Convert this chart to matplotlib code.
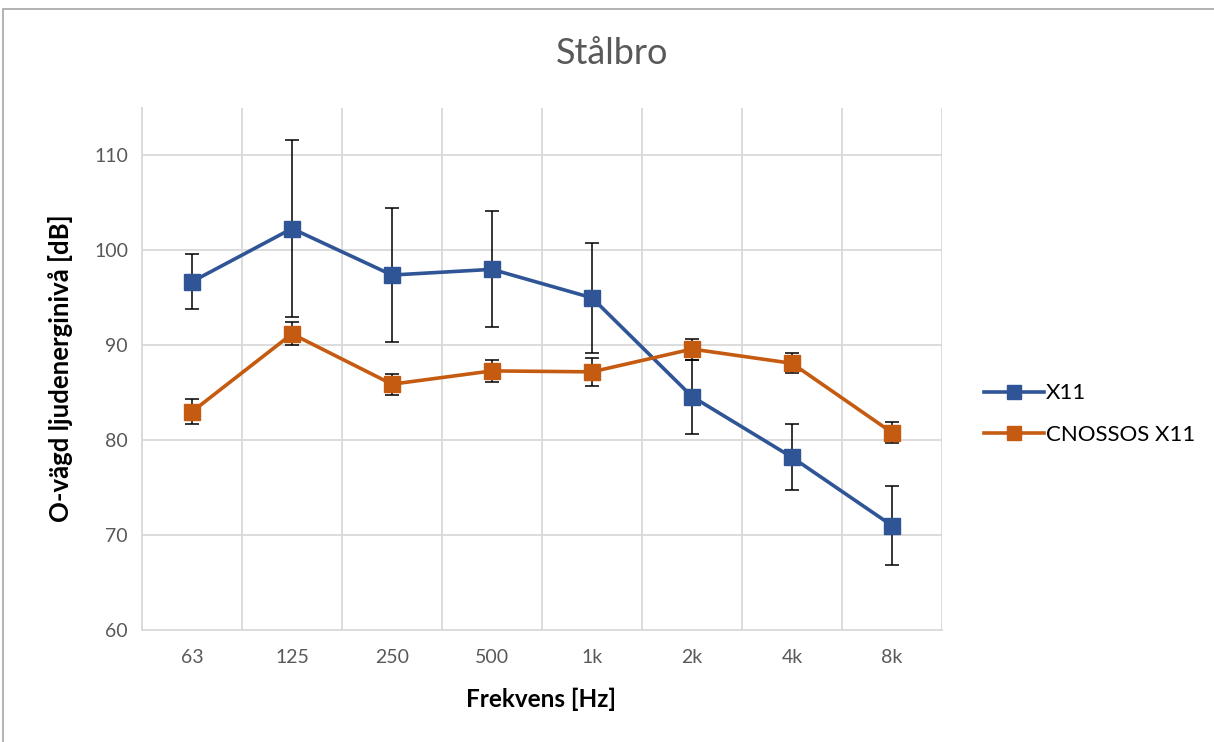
import matplotlib
matplotlib.use("Agg")
import matplotlib.pyplot as plt
from matplotlib.patches import Rectangle
import numpy as np

categories = ["63", "125", "250", "500", "1k", "2k", "4k", "8k"]
x11 = [96.7, 102.3, 97.4, 98.0, 95.0, 84.6, 78.2, 71.0]
x11_err = [2.9, 9.3, 7.1, 6.1, 5.8, 3.9, 3.5, 4.2]
cnossos = [83.0, 91.2, 85.9, 87.3, 87.2, 89.6, 88.1, 80.8]
cnossos_err = [1.3, 1.2, 1.1, 1.15, 1.5, 1.1, 1.05, 1.1]
series_names = ["X11", "CNOSSOS X11"]
yticks = [60, 70, 80, 90, 100, 110]

plt.rcParams['font.family'] = ['Lato', 'DejaVu Sans']

fig = plt.figure(figsize=(12.14, 7.42), dpi=100)
ax = fig.add_axes([142/1214, 1-630/742, 800/1214, (630-108)/742])

blue = "#2F5597"
orange = "#C55A11"
x = np.arange(len(categories))

ax.errorbar(x, x11, yerr=x11_err, fmt='none', ecolor='black', elinewidth=1.1,
            capsize=5, capthick=1.1, zorder=3)
ax.errorbar(x, cnossos, yerr=cnossos_err, fmt='none', ecolor='black', elinewidth=1.1,
            capsize=5, capthick=1.1, zorder=3)
ax.plot(x, x11, color=blue, lw=2.6, marker='s', markersize=12, label=series_names[0], zorder=4)
ax.plot(x, cnossos, color=orange, lw=2.6, marker='s', markersize=12, label=series_names[1], zorder=5)

ax.set_xlim(-0.5, len(categories) - 0.5)
ax.set_ylim(60, 115)
ax.set_yticks(yticks)
ax.set_xticks(x)
ax.set_xticklabels(categories)
ax.set_xticks(np.arange(-0.5, len(categories), 1.0), minor=True)
ax.grid(False)
for yv in yticks[1:]:
    ax.axhline(yv, color="#D9D9D9", lw=1.3, zorder=0)
ax.grid(True, which='minor', axis='x', color="#D9D9D9", lw=1.3, zorder=0)
ax.tick_params(which='both', length=0)
ax.tick_params(axis='both', labelsize=14, labelcolor="#595959", pad=10)
ax.tick_params(axis='x', pad=14)
for s in ['top', 'right']:
    ax.spines[s].set_visible(False)
for s in ['left', 'bottom']:
    ax.spines[s].set_color("#D9D9D9")
    ax.spines[s].set_linewidth(1.3)

fig.text(541/1214, 1-699/742, "Frekvens [Hz]", fontsize=17.5, fontweight='bold',
         color='black', ha='center', va='center')
fig.text(61/1214, 1-368/742, "O-vägd ljudenerginivå [dB]", fontsize=18.5, fontweight='bold',
         color='black', ha='center', va='center', rotation=90)

fig.text(612/1214, 1-54/742, "Stålbro", fontsize=26, color="#595959", ha='center', va='center')

leg = ax.legend(loc='center left', bbox_to_anchor=(964/1214, 1-414/742), bbox_transform=fig.transFigure,
                frameon=False, fontsize=16, handlelength=2.7, labelspacing=0.95, handletextpad=0.1,
                markerscale=0.85)

fig.patches.append(Rectangle((3/1214, -0.01), 1.2, 1 - 9/742 + 0.01, transform=fig.transFigure,
                             fill=False, edgecolor="#A6A6A6", lw=1.2))

fig.savefig("out.png", dpi=100)
